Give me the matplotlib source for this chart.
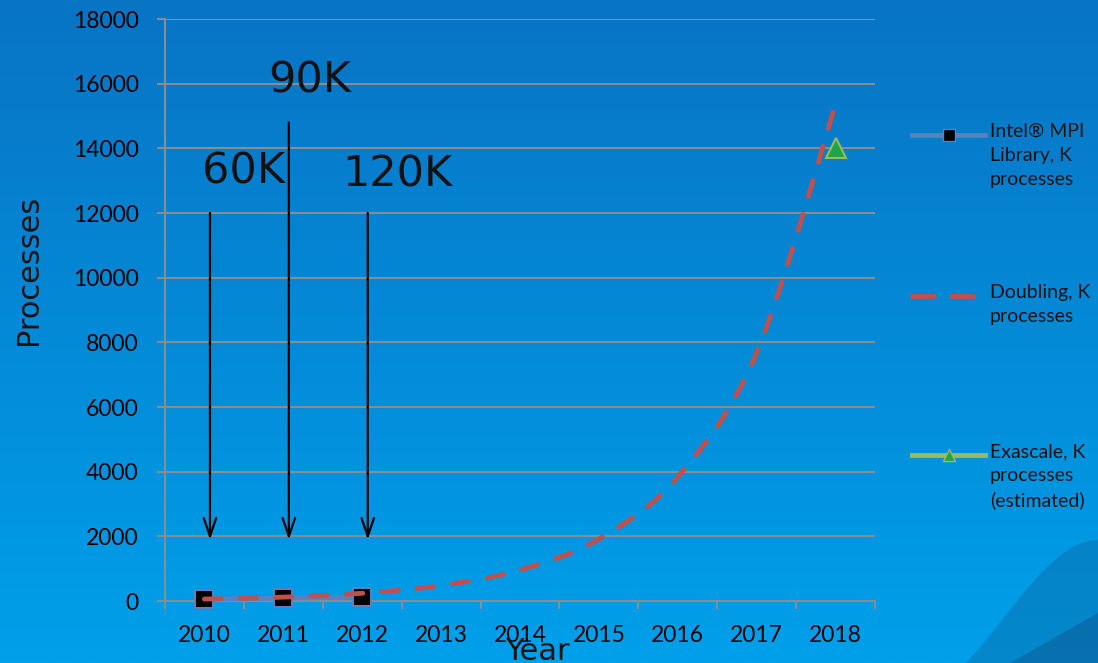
import matplotlib.pyplot as plt
import numpy as np
from matplotlib.lines import Line2D
from matplotlib.path import Path
from matplotlib.patches import PathPatch, Polygon

# Données
years = ["2010", "2011", "2012", "2013", "2014", "2015", "2016", "2017", "2018"]
mpi_years = ["2010", "2011", "2012"]
mpi_procs = [60, 90, 120]
doubling_procs = [60, 120, 240, 480, 960, 1920, 3840, 7680, 15360]
exa_years = ["2018"]
exa_procs = [14000]

# Flèches et étiquettes
arrow_labels = ["60K", "90K", "120K"]
arrow_x = [0.07, 1.07, 2.07]
arrow_top = [12000, 14800, 12000]
arrow_bottom = [1900, 1900, 1900]
label_x = [0.49, 1.34, 2.44]
label_y = [13270, 16100, 13180]

legend_labels = ["Intel® MPI\nLibrary, K\nprocesses",
                 "Doubling, K\nprocesses",
                 "Exascale, K\nprocesses\n(estimated)"]

W, H = 1098, 663
fig = plt.figure(figsize=(W / 100, H / 100), dpi=100)

# Fond dégradé bleu
bg = fig.add_axes([0, 0, 1, 1], zorder=-10)
top = np.array([8, 116, 196]) / 255
bot = np.array([0, 160, 234]) / 255
t = np.linspace(0, 1, 256)[:, None]
grad = top[None, :] * (1 - t) + bot[None, :] * t
bg.imshow(grad[:, None, :].repeat(2, axis=1), aspect="auto", extent=[0, 1, 0, 1])
# forme décorative en bas à droite
th = np.linspace(0, 1, 40)
arc_x = (965 + 133 * th ** 0.8) / W
arc_y = 1 - (663 - 123 * np.sin(th * np.pi / 2) ** 0.9) / H
bg.add_patch(Polygon(np.column_stack([np.r_[arc_x, 1], np.r_[arc_y, 0]]),
                     closed=True, color="#0b6aa8", alpha=0.45, lw=0))
bg.add_patch(Polygon([[1010 / W, 0], [1, 0], [1, 50 / H]], closed=True,
                     color="#0a5a92", alpha=0.5, lw=0))
bg.set_xlim(0, 1)
bg.set_ylim(0, 1)
bg.axis("off")

ax = fig.add_axes([165 / W, 1 - 601 / H, 710 / W, 582 / H])
ax.set_facecolor("none")

idx = {y: i for i, y in enumerate(years)}
x_all = np.arange(len(years))
x_mpi = [idx[y] for y in mpi_years]
x_exa = [idx[y] for y in exa_years]

ax.plot(x_mpi, mpi_procs, color="#5b7fbf", lw=3.5, marker="s", markersize=13,
        markerfacecolor="black", markeredgecolor="#5b7fbf", markeredgewidth=1.5,
        zorder=3, clip_on=False)

# courbe lissée (Bézier type Catmull-Rom, comme Excel)
pts = np.column_stack([x_all, doubling_procs]).astype(float)
verts = [pts[0]]
codes = [Path.MOVETO]
for i in range(len(pts) - 1):
    p0 = pts[max(i - 1, 0)]
    p1, p2 = pts[i], pts[i + 1]
    p3 = pts[min(i + 2, len(pts) - 1)]
    verts += [p1 + (p2 - p0) / 6, p2 - (p3 - p1) / 6, p2]
    codes += [Path.CURVE4] * 3
ax.add_patch(PathPatch(Path(verts, codes), fill=False, edgecolor="#c0504d",
                       lw=3.5, linestyle=(0, (3.4, 3.9)), capstyle="round",
                       zorder=4, clip_on=False))

ax.plot(x_exa, exa_procs, color="#9bbb59", lw=3, marker="^", markersize=14,
        markerfacecolor="#1aa64a", markeredgecolor="#9bbb59", markeredgewidth=1.5,
        linestyle="none", zorder=5)

for lx, top_y, bot_y in zip(arrow_x, arrow_top, arrow_bottom):
    ax.annotate("", xy=(lx, bot_y), xytext=(lx, top_y),
                arrowprops=dict(arrowstyle="->,head_length=1.3,head_width=0.45",
                                color="black", lw=1.6, mutation_scale=10,
                                shrinkA=0, shrinkB=0))
for lab, lx, ly in zip(arrow_labels, label_x, label_y):
    ax.text(lx, ly, lab, fontsize=31, ha="center", va="center", color="#111111")

ax.set_xlim(-0.5, len(years) - 0.5)
ax.set_ylim(0, 18000)
ax.set_yticks(range(0, 18001, 2000))
ax.set_xticks(x_all)
ax.set_xticklabels(years, family="Lato", fontsize=16.5)
for lbl in ax.get_yticklabels():
    lbl.set_family("Lato")
    lbl.set_fontsize(16.5)
ax.set_xticks(np.arange(-0.5, len(years)), minor=True)
ax.tick_params(axis="x", which="major", length=0, pad=17)
ax.tick_params(axis="x", which="minor", length=6, color="#8c8c8c", width=1.5)
ax.tick_params(axis="y", length=6, color="#8c8c8c", width=1.5, pad=13)
ax.grid(axis="y", color="#8c8c8c", lw=1.5)
for s in ["top", "right"]:
    ax.spines[s].set_visible(False)
for s in ["left", "bottom"]:
    ax.spines[s].set_color("#8c8c8c")
    ax.spines[s].set_linewidth(1.5)

fig.text(28 / W, 1 - 270 / H, "Processes", rotation=90, fontsize=22,
         ha="center", va="center", color="#111111")
fig.text(537 / W, 1 - 652 / H, "Year", fontsize=22, ha="center", va="center",
         color="#111111")

# Légende manuelle
legend_y = [135, 296, 455]
styles = [dict(color="#5b7fbf", lw=3.5, marker="s", markersize=8,
               markerfacecolor="black", markeredgecolor="#5b7fbf"),
          dict(color="#c0504d", lw=3.5, dashes=(4.5, 3.6), dash_capstyle="round"),
          dict(color="#9bbb59", lw=3.5, marker="^", markersize=9,
               markerfacecolor="#1aa64a", markeredgecolor="#9bbb59")]
for ly, st, lab in zip(legend_y, styles, legend_labels):
    yy = 1 - ly / H
    fig.add_artist(Line2D([912 / W, 985 / W], [yy, yy], markevery=[], **st))
    if "marker" in st:
        fig.add_artist(Line2D([948.5 / W], [yy], linestyle="none",
                              **{k: v for k, v in st.items() if k not in ("lw",)}))
    fig.text(990 / W, yy + 12 / H, lab, family="Lato", fontsize=14, va="top",
             ha="left", linespacing=1.5, color="#111111")

fig.savefig("out.png", dpi=100)
